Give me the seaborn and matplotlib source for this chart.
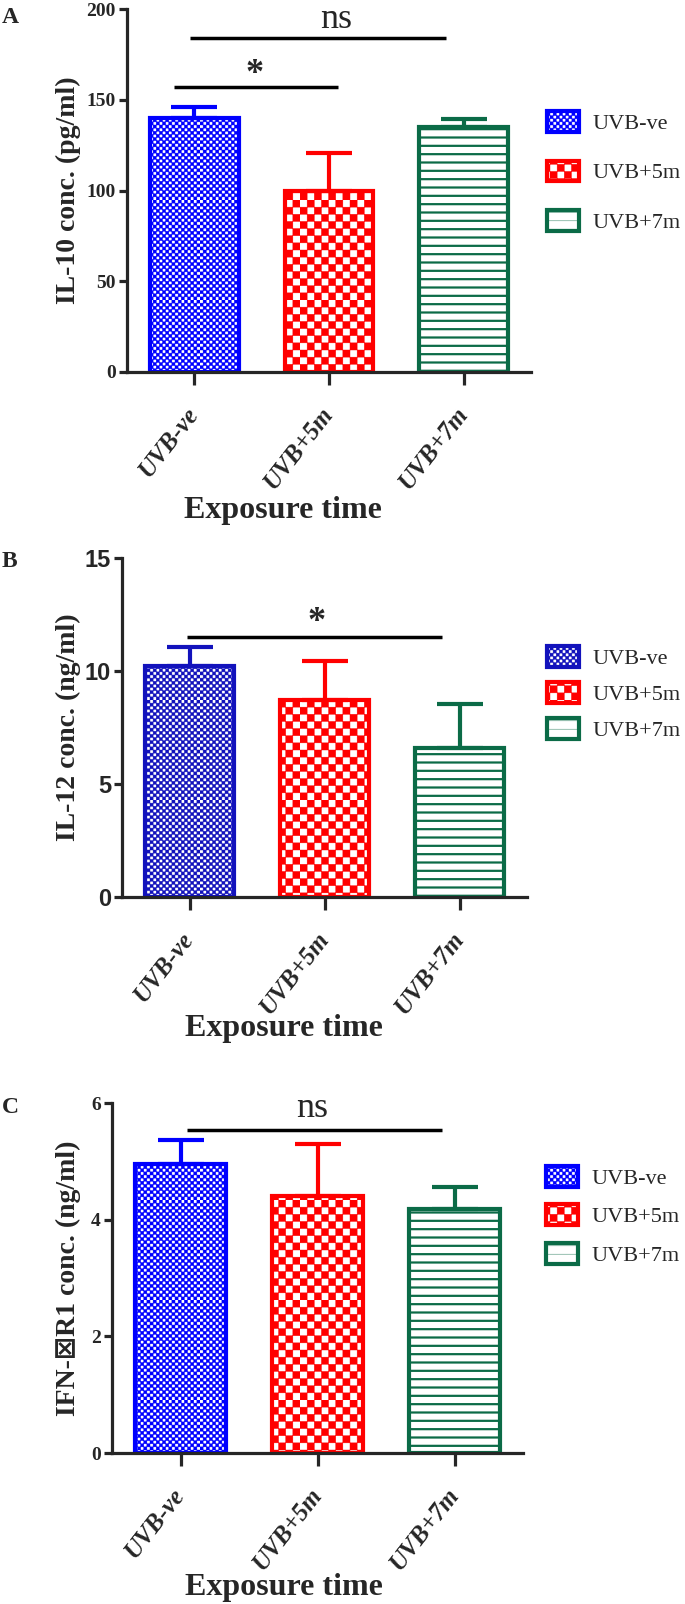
import numpy as np
import matplotlib
matplotlib.use("Agg")
import matplotlib.pyplot as plt
import matplotlib.hatch as mhatch
from matplotlib.path import Path
from matplotlib.patches import Patch
import seaborn as sns

sns.set_style("ticks")
plt.rcParams["font.family"] = ["Liberation Serif", "DejaVu Sans"]
plt.rcParams["hatch.linewidth"] = 0.3


# checkerboard hatch (takes over the "O" hatch character)
class CheckerHatch(mhatch.HatchPatternBase):
    def __init__(self, hatch, density):
        self.n = hatch.count("O") * 2
        self.num_vertices = (self.n * self.n // 2) * 5

    def set_vertices_and_codes(self, vertices, codes):
        s = 1.0 / self.n
        k = 0
        for i in range(self.n):
            for j in range(self.n):
                if (i + j) % 2:
                    continue
                x, y = i * s, j * s
                vertices[k:k + 5] = [[x, y], [x + s, y], [x + s, y + s], [x, y + s], [x, y]]
                codes[k:k + 5] = [Path.MOVETO, Path.LINETO, Path.LINETO,
                                  Path.LINETO, Path.CLOSEPOLY]
                k += 5


mhatch._hatch_types = [t for t in mhatch._hatch_types
                       if t is not mhatch.LargeCircles] + [CheckerHatch]

# data (mean and upper SEM)
groups = ["UVB-ve", "UVB+5m", "UVB+7m"]

il10_mean = [140.0, 100.0, 135.0]
il10_err = [6.0, 21.0, 4.5]

il12_mean = [10.2, 8.7, 6.6]
il12_err = [0.85, 1.75, 1.95]

ifn_mean = [4.95, 4.4, 4.18]
ifn_err = [0.42, 0.9, 0.38]

# significance bars: (x start, x end, y, label, label x, label y)
il10_sig = [(-0.03, 1.87, 184, "ns", 1.05, 189.5),
            (-0.15, 1.07, 157.3, "*", 0.45, 159.5)]
il12_sig = [(-0.02, 1.87, 11.52, "*", 0.94, 11.77)]
ifn_sig = [(0.05, 1.91, 5.54, "ns", 0.96, 5.76)]

colors_a = ["#0000FF", "#FF0000", "#0B6B47"]
colors_b = ["#1212BC", "#FF0000", "#0B6B47"]
hatches = ["O" * 16, "O" * 7, "--"]
hatch_lw = [0.3, 0.3, 1.6]

fig = plt.figure(figsize=(6.85, 16.04), dpi=100)
W, H = 685, 1604


def px_axes(left, right, top, bottom):
    return fig.add_axes([left / W, 1 - bottom / H, (right - left) / W, (bottom - top) / H])


def draw_panel(ax, means, errs, colors, ylim, yticks, ylabel, sig,
               tick_font, tick_size, ylab_x, xlab_x, xlab_y, leg_xy, leg_space):
    sns.barplot(x=groups, y=means, hue=groups, palette=colors, legend=False,
                errorbar=None, width=0.66, ax=ax, zorder=2)
    handles = []
    for i, (p, c, h, hl) in enumerate(zip(ax.patches, colors, hatches, hatch_lw)):
        p.set_facecolor("white")
        p.set_edgecolor(c)
        p.set_hatch(h)
        p.set_linewidth(3)
        hp = Patch(facecolor="white", edgecolor=c, hatch=h, linewidth=3)
        for q in (p, hp):
            if hasattr(q, "set_hatch_linewidth"):
                q.set_hatch_linewidth(hl)
        handles.append(hp)
        xc = p.get_x() + p.get_width() / 2
        ax.errorbar([xc], [means[i]], yerr=[[0], [errs[i]]], fmt="none",
                    ecolor=c, elinewidth=3, capsize=16.5, capthick=3, zorder=3)

    for x0, x1, y, lab, tx, ty in sig:
        ax.plot([x0, x1], [y, y], color="black", lw=2.5, solid_capstyle="butt",
                clip_on=False, zorder=4)
        ax.text(tx, ty, lab, ha="center", va="baseline", fontsize=26,
                fontweight="bold" if lab == "*" else "normal", clip_on=False)

    ax.set_xlim(-0.5, 2.5)
    ax.set_ylim(*ylim)
    ax.set_yticks(yticks)
    sns.despine(ax=ax)
    for s in ["left", "bottom"]:
        ax.spines[s].set_linewidth(2.3)
    ax.tick_params(axis="y", length=6, width=2.3, pad=2)
    ax.tick_params(axis="x", length=9, width=2.3, pad=18)
    for t in ax.get_yticklabels():
        t.set_fontfamily(tick_font)
        t.set_fontsize(tick_size)
        t.set_fontweight("bold")
    ax.set_xticks(range(len(groups)))
    ax.set_xticklabels(groups, rotation=52, ha="right", va="center",
                       rotation_mode="anchor", fontsize=18,
                       fontweight="bold", fontstyle="italic")

    ax.set_ylabel(ylabel, fontsize=20, fontweight="bold",
                  family=["Liberation Serif", "DejaVu Sans"])
    ax.yaxis.set_label_coords(ylab_x, 0.5)
    ax.set_xlabel("Exposure time", fontsize=23, fontweight="bold")
    ax.xaxis.set_label_coords(xlab_x, xlab_y)
    ax.xaxis.label.set_va("baseline")

    ax.legend(handles, groups, loc="upper left",
              bbox_to_anchor=(leg_xy[0] / W, 1 - leg_xy[1] / H),
              bbox_transform=fig.transFigure, frameon=False, borderpad=0,
              borderaxespad=0, fontsize=16, handlelength=1.45,
              handleheight=1.05, handletextpad=0.6, labelspacing=leg_space)


ax_a = px_axes(127, 531, 9.3, 372)
draw_panel(ax_a, il10_mean, il10_err, colors_a, (0, 200), [0, 50, 100, 150, 200],
           "IL-10 conc. (pg/ml)", il10_sig, "Liberation Serif", 14,
           -0.114, 0.386, -0.4025, (547, 111), 1.2)

ax_b = px_axes(122, 527, 558, 897)
draw_panel(ax_b, il12_mean, il12_err, colors_b, (0, 15), [0, 5, 10, 15],
           "IL-12 conc. (ng/ml)", il12_sig, "Liberation Sans", 17,
           -0.101, 0.399, -0.410, (547, 646), 0.6)

ax_c = px_axes(112, 523, 1103, 1453)
draw_panel(ax_c, ifn_mean, ifn_err, colors_a, (0, 6), [0, 2, 4, 6],
           "IFN-\u22a0R1 conc. (ng/ml)", ifn_sig, "Liberation Serif", 14,
           -0.075, 0.418, -0.406, (546, 1166), 0.7)

for lab, yb in [("A", 23), ("B", 567), ("C", 1113)]:
    fig.text(2 / W, 1 - yb / H, lab, fontsize=17, fontweight="bold",
             va="baseline", ha="left")

fig.savefig("out.png", dpi=100)
